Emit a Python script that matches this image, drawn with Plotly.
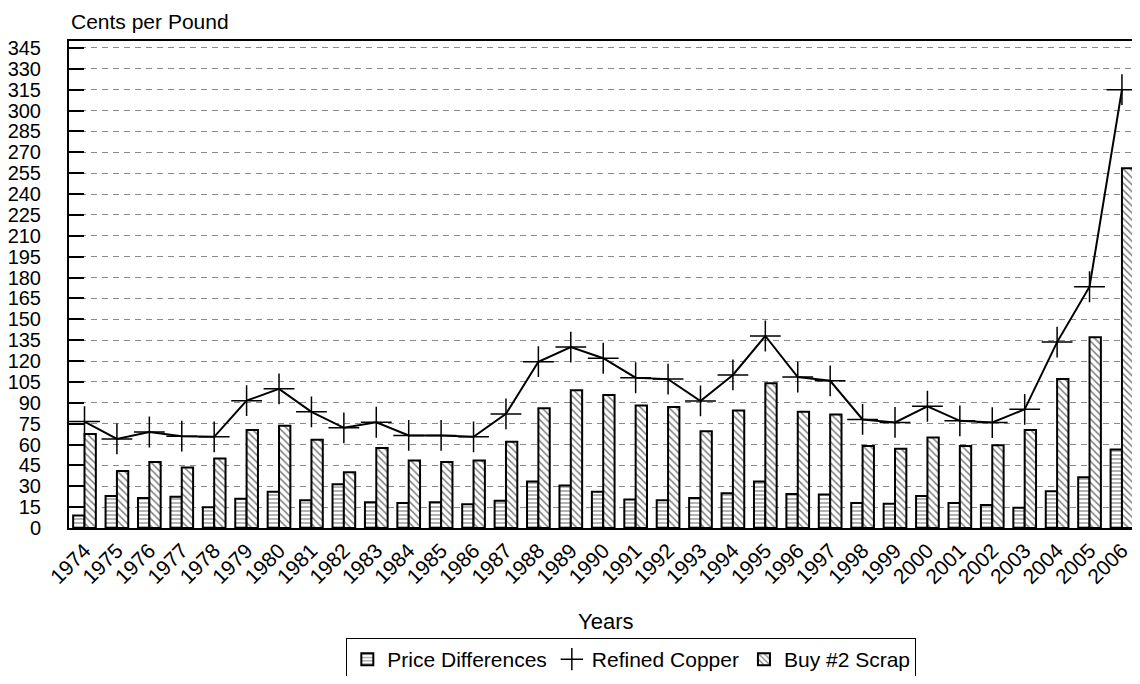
import plotly.graph_objects as go

years = [str(y) for y in range(1974, 2007)]
price_diff = [9, 23, 21.5, 22.5, 15, 21, 26, 20, 31.5, 18.5, 18, 18.5, 17, 19.5, 33.5, 30.5,
              26, 20.5, 20, 21.5, 25, 33.5, 24.5, 24, 18, 17.5, 23, 18, 16.5, 14.5, 26.5, 36.5, 56.5]
scrap = [67.5, 41, 47.5, 43.5, 50, 70.5, 73.5, 63.5, 40, 57.5, 48.5, 47.5, 48.5, 62, 86, 99,
         95.5, 88, 87, 69.5, 84.5, 104, 83.5, 81.5, 59, 57, 65, 59, 59.5, 70.5, 107, 137, 258.5]
refined = [76.5, 64, 69, 66, 65.5, 91.5, 100, 83.5, 72, 76, 66.5, 66.5, 65.5, 82, 119.5, 130,
           122, 108, 107, 91.3, 110, 138, 108.5, 105.8, 78, 75.9, 87.5, 77, 75.8, 85.3, 133.6, 173.4, 315]
y_ticks = list(range(0, 346, 15))

FONT = "Liberation Sans, Arial, Helvetica, sans-serif"

fig = go.Figure()
fig.add_trace(go.Bar(
    x=years, y=price_diff, name="Price Differences",
    marker=dict(color="white", line=dict(color="black", width=2),
                pattern=dict(shape="-", fgcolor="black", bgcolor="white", size=4, solidity=0.3)),
))
fig.add_trace(go.Scatter(
    x=years, y=refined, name="Refined Copper", mode="lines+markers", showlegend=False,
    line=dict(color="black", width=2),
    marker=dict(symbol="cross-thin", size=22, color="black", line=dict(color="black", width=1.5)),
))
fig.add_trace(go.Scatter(
    x=[None], y=[None], name="Refined Copper", mode="markers",
    marker=dict(symbol="cross-thin", size=18, color="black", line=dict(color="black", width=1.5)),
))
fig.add_trace(go.Bar(
    x=years, y=scrap, name="Buy #2 Scrap",
    marker=dict(color="white", line=dict(color="black", width=2),
                pattern=dict(shape="\\", fgcolor="black", bgcolor="white", size=5, solidity=0.3)),
))

fig.update_layout(
    width=1124, height=668,
    margin=dict(l=61, r=0, t=33, b=148, autoexpand=False),
    paper_bgcolor="white", plot_bgcolor="white",
    barmode="group", bargap=0.3, bargroupgap=0,
    font=dict(family=FONT, color="black", size=21),
    showlegend=True,
    legend=dict(orientation="h", x=0.529, xanchor="center", y=-0.2259, yanchor="top",
                bordercolor="black", borderwidth=1, font=dict(size=21), itemwidth=30,
                traceorder="normal", tracegroupgap=0),
    annotations=[
        dict(text="Cents per Pound", xref="paper", yref="paper", x=0, y=1.04,
             xanchor="left", yanchor="middle", showarrow=False, font=dict(size=21)),
        dict(text="Years", xref="paper", yref="paper", x=0.505, y=-0.193,
             xanchor="center", yanchor="middle", showarrow=False, font=dict(size=22)),
    ],
)
fig.update_xaxes(
    type="category", range=[-0.478, 32.31],
    showline=True, linecolor="black", linewidth=2, mirror=True,
    showgrid=False, ticks="", tickangle=-45, tickfont=dict(size=21),
)
fig.update_yaxes(
    range=[0, 350], tickvals=y_ticks, ticktext=[str(v) for v in y_ticks],
    showline=True, linecolor="black", linewidth=2,
    ticks="inside", ticklen=15, tickwidth=2, tickcolor="black",
    ticklabelstandoff=22,
    showgrid=True, gridcolor="#8a8a8a", gridwidth=1, griddash="6px,5px",
    zeroline=False, tickfont=dict(size=20),
)

fig.write_html("out.html")
